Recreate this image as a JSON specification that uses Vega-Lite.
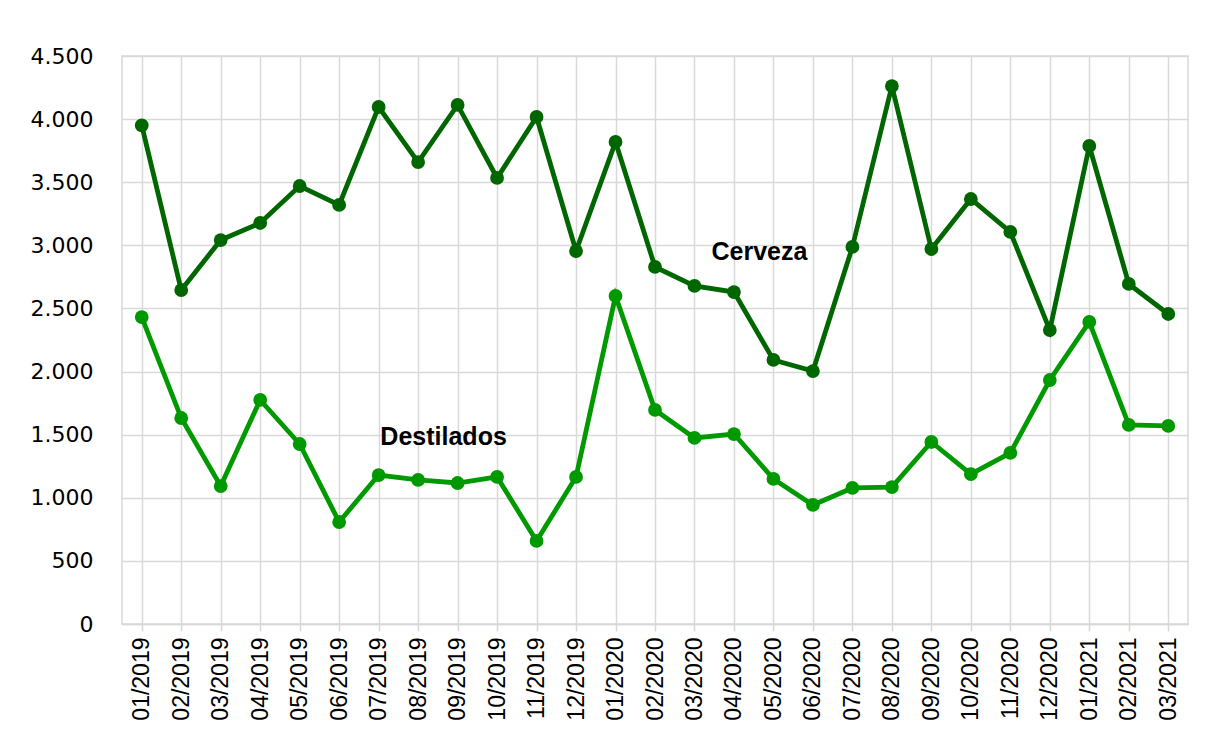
{
  "$schema": "https://vega.github.io/schema/vega-lite/v6.json",
  "autosize": "none",
  "width": 1066,
  "height": 568,
  "padding": {"left": 122, "top": 56, "right": 17, "bottom": 106},
  "background": "white",
  "config": {
    "view": {"stroke": "#d9d9d9", "strokeWidth": 1.5},
    "axis": {"gridColor": "#d9d9d9", "gridWidth": 1.5}
  },
  "datasets": {
    "series": [
      {"mes": "01/2019", "serie": "Cerveza", "valor": 3950},
      {"mes": "02/2019", "serie": "Cerveza", "valor": 2646},
      {"mes": "03/2019", "serie": "Cerveza", "valor": 3042},
      {"mes": "04/2019", "serie": "Cerveza", "valor": 3177},
      {"mes": "05/2019", "serie": "Cerveza", "valor": 3470},
      {"mes": "06/2019", "serie": "Cerveza", "valor": 3320},
      {"mes": "07/2019", "serie": "Cerveza", "valor": 4096},
      {"mes": "08/2019", "serie": "Cerveza", "valor": 3660},
      {"mes": "09/2019", "serie": "Cerveza", "valor": 4112},
      {"mes": "10/2019", "serie": "Cerveza", "valor": 3534},
      {"mes": "11/2019", "serie": "Cerveza", "valor": 4017},
      {"mes": "12/2019", "serie": "Cerveza", "valor": 2955},
      {"mes": "01/2020", "serie": "Cerveza", "valor": 3819},
      {"mes": "02/2020", "serie": "Cerveza", "valor": 2829},
      {"mes": "03/2020", "serie": "Cerveza", "valor": 2678},
      {"mes": "04/2020", "serie": "Cerveza", "valor": 2630},
      {"mes": "05/2020", "serie": "Cerveza", "valor": 2092},
      {"mes": "06/2020", "serie": "Cerveza", "valor": 2004},
      {"mes": "07/2020", "serie": "Cerveza", "valor": 2987},
      {"mes": "08/2020", "serie": "Cerveza", "valor": 4262},
      {"mes": "09/2020", "serie": "Cerveza", "valor": 2971},
      {"mes": "10/2020", "serie": "Cerveza", "valor": 3367},
      {"mes": "11/2020", "serie": "Cerveza", "valor": 3106},
      {"mes": "12/2020", "serie": "Cerveza", "valor": 2329},
      {"mes": "01/2021", "serie": "Cerveza", "valor": 3787},
      {"mes": "02/2021", "serie": "Cerveza", "valor": 2694},
      {"mes": "03/2021", "serie": "Cerveza", "valor": 2456},
      {"mes": "01/2019", "serie": "Destilados", "valor": 2432},
      {"mes": "02/2019", "serie": "Destilados", "valor": 1632},
      {"mes": "03/2019", "serie": "Destilados", "valor": 1093},
      {"mes": "04/2019", "serie": "Destilados", "valor": 1775},
      {"mes": "05/2019", "serie": "Destilados", "valor": 1426},
      {"mes": "06/2019", "serie": "Destilados", "valor": 808},
      {"mes": "07/2019", "serie": "Destilados", "valor": 1180},
      {"mes": "08/2019", "serie": "Destilados", "valor": 1141},
      {"mes": "09/2019", "serie": "Destilados", "valor": 1117},
      {"mes": "10/2019", "serie": "Destilados", "valor": 1165},
      {"mes": "11/2019", "serie": "Destilados", "valor": 658},
      {"mes": "12/2019", "serie": "Destilados", "valor": 1165},
      {"mes": "01/2020", "serie": "Destilados", "valor": 2599},
      {"mes": "02/2020", "serie": "Destilados", "valor": 1696},
      {"mes": "03/2020", "serie": "Destilados", "valor": 1474},
      {"mes": "04/2020", "serie": "Destilados", "valor": 1505},
      {"mes": "05/2020", "serie": "Destilados", "valor": 1149},
      {"mes": "06/2020", "serie": "Destilados", "valor": 943},
      {"mes": "07/2020", "serie": "Destilados", "valor": 1078},
      {"mes": "08/2020", "serie": "Destilados", "valor": 1085},
      {"mes": "09/2020", "serie": "Destilados", "valor": 1442},
      {"mes": "10/2020", "serie": "Destilados", "valor": 1188},
      {"mes": "11/2020", "serie": "Destilados", "valor": 1355},
      {"mes": "12/2020", "serie": "Destilados", "valor": 1933},
      {"mes": "01/2021", "serie": "Destilados", "valor": 2393},
      {"mes": "02/2021", "serie": "Destilados", "valor": 1577},
      {"mes": "03/2021", "serie": "Destilados", "valor": 1569}
    ],
    "etiquetas": [
      {"mes": "05/2020", "valor": 2947, "texto": "Cerveza"},
      {"mes": "09/2019", "valor": 1482, "texto": "Destilados"}
    ]
  },
  "layer": [
    {
      "data": {"name": "series"},
      "mark": {"type": "line", "strokeWidth": 4.8, "point": {"filled": true, "size": 190, "opacity": 1}},
      "encoding": {
        "x": {
          "field": "mes", "type": "ordinal", "sort": null,
          "scale": {"paddingInner": 0, "paddingOuter": 0},
          "axis": {
            "title": null, "bandPosition": 0,
            "labelAngle": -90, "labelFont": "Liberation Sans", "labelFontSize": 23,
            "labelColor": "#000000", "labelPadding": 6,
            "tickColor": "#d9d9d9", "tickSize": 7, "tickWidth": 1.5,
            "domainColor": "#d9d9d9", "domainWidth": 1.5,
            "grid": true
          }
        },
        "y": {
          "field": "valor", "type": "quantitative",
          "scale": {"domain": [0, 4500], "nice": false},
          "axis": {
            "title": null, "values": [0, 500, 1000, 1500, 2000, 2500, 3000, 3500, 4000, 4500],
            "labelExpr": "replace(format(datum.value, ','), ',', '.')",
            "labelFont": "DejaVu Sans", "labelFontSize": 22, "labelColor": "#000000",
            "ticks": false, "domain": false, "labelPadding": 29, "grid": true
          }
        },
        "color": {
          "field": "serie", "type": "nominal",
          "scale": {"domain": ["Cerveza", "Destilados"], "range": ["#006600", "#009900"]},
          "legend": null
        }
      }
    },
    {
      "data": {"name": "etiquetas"},
      "mark": {"type": "text", "font": "Liberation Sans", "fontWeight": "bold", "fontSize": 25, "color": "#000000", "baseline": "middle", "align": "center", "dx": -14},
      "encoding": {
        "x": {"field": "mes", "type": "ordinal", "sort": null},
        "y": {"field": "valor", "type": "quantitative"},
        "text": {"field": "texto"}
      }
    }
  ]
}
